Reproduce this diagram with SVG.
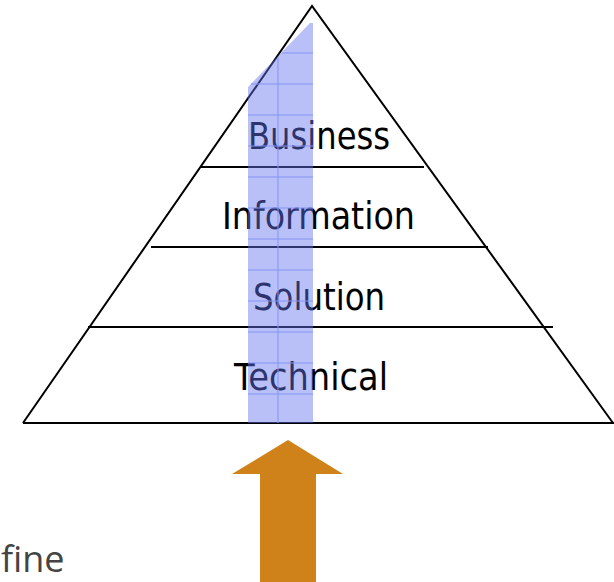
<svg xmlns="http://www.w3.org/2000/svg" width="614" height="582" viewBox="0 0 614 582">
<style>
.ln{stroke:#000;stroke-width:2;fill:none}
.lbl{font-family:"DejaVu Sans Condensed","DejaVu Sans",sans-serif;font-size:37px;fill:#000}
.grid{stroke:#8593f5;stroke-width:1}
</style>
<rect width="614" height="582" fill="#fff"/>
<g id="pyramid">
<polyline class="ln" points="23,423 312,6 613,423"/>
<line class="ln" x1="23" y1="423" x2="614" y2="423"/>
<line class="ln" x1="201" y1="167" x2="424" y2="167"/>
<line class="ln" x1="151" y1="247" x2="488" y2="247"/>
<line class="ln" x1="88" y1="327" x2="553" y2="327"/>
</g>
<g id="business"><text class="lbl" x="248" y="149" textLength="142" lengthAdjust="spacingAndGlyphs">Business</text></g>
<g id="information"><text class="lbl" x="222" y="229" textLength="193" lengthAdjust="spacingAndGlyphs">Information</text></g>
<g id="solution"><text class="lbl" x="253" y="310" textLength="132" lengthAdjust="spacingAndGlyphs">Solution</text></g>
<g id="technical"><text class="lbl" x="234" y="390" textLength="154" lengthAdjust="spacingAndGlyphs">Technical</text></g>
<g id="column">
<polygon points="248,423 248,87 310,23 313,23 313,423" fill="rgb(100,115,240)" fill-opacity="0.45"/>
<g class="grid">
<line x1="278" y1="57" x2="278" y2="423"/>
<line x1="282" y1="53" x2="313" y2="53"/>
<line x1="251" y1="84" x2="313" y2="84"/>
<line x1="248" y1="115" x2="313" y2="115"/>
<line x1="248" y1="146" x2="313" y2="146"/>
<line x1="248" y1="177" x2="313" y2="177"/>
<line x1="248" y1="208" x2="313" y2="208"/>
<line x1="248" y1="239" x2="313" y2="239"/>
<line x1="248" y1="270" x2="313" y2="270"/>
<line x1="248" y1="301" x2="313" y2="301"/>
<line x1="248" y1="332" x2="313" y2="332"/>
<line x1="248" y1="363" x2="313" y2="363"/>
<line x1="248" y1="394" x2="313" y2="394"/>
</g>
</g>
<g id="arrow">
<polygon points="288,440 343,474 316,474 316,582 260,582 260,474 232,474" fill="#d0821a"/>
</g>
<g id="fine"><text x="1" y="572" font-family="'Open Sans',sans-serif" font-size="36" fill="#444">fine</text></g>
</svg>
